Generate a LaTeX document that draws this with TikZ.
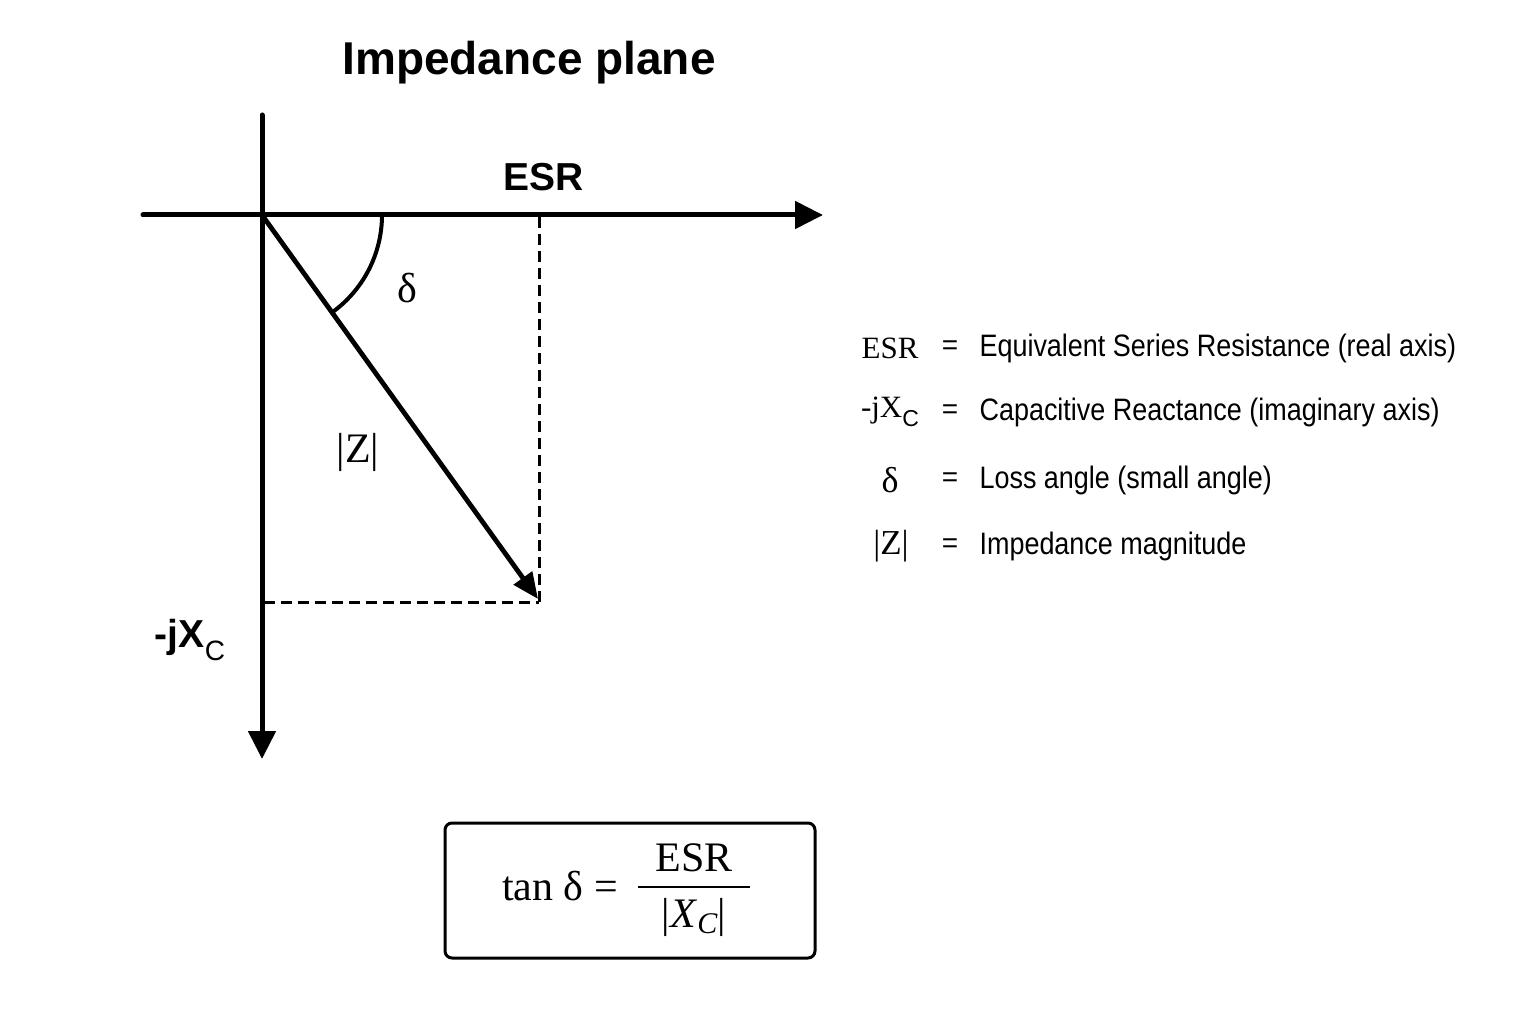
\documentclass[tikz,border=0pt]{standalone}
\usepackage{fontspec}
\setmainfont{Liberation Serif}
\setsansfont{Liberation Sans}
\newfontfamily\narrowsans[FakeStretch=0.87]{Liberation Sans}
\usetikzlibrary{arrows.meta}
\newcommand{\fs}[1]{\fontsize{#1}{#1}\selectfont}
\tikzset{
  axisline/.style={line width=5pt, -{Triangle[length=28pt,width=27pt]}},
  vecline/.style={line width=4.8pt, -{Triangle[length=26pt,width=22pt]}},
  dashline/.style={line width=3pt, dash pattern=on 11pt off 6pt},
  title/.style={font=\sffamily\bfseries\fs{46}},
  axislabel/.style={font=\sffamily\bfseries\fs{39}},
  greek/.style={font=\rmfamily\fs{42}},
  sym/.style={font=\rmfamily\fs{31}, anchor=center},
  eqs/.style={font=\sffamily\fs{28}, anchor=center},
  desc/.style={font=\narrowsans\fs{31}, anchor=west},
  fbox/.style={draw, line width=3pt, rounded corners=7pt},
  ftext/.style={font=\rmfamily\fs{42}}
}
\begin{document}
\begin{tikzpicture}[x=1pt,y=-1pt]
\useasboundingbox (0,0) rectangle (1536,1024);
\fill[white] (0,0) rectangle (1536,1024);

% title
\node[title] (title) at (529,63) {Impedance plane};

% axes
\coordinate (O) at (262,215);
\coordinate (xl) at (143,215);
\coordinate (xr) at (823,215);
\coordinate (yt) at (262,115);
\coordinate (yb) at (262,759);
\draw[line width=5pt, line cap=round] (xl) -- (O);
\draw[axisline] (O) -- (xr);
\draw[line width=5pt, line cap=round] (yt) -- (O);
\draw[axisline] (O) -- (yb);

% dashed projections
\coordinate (P) at (539,602);
\coordinate (Px) at (539,217);
\coordinate (Py) at (264,602);
\draw[dashline] (Px) -- (P);
\draw[dashline] (Py) -- (P);

% vector
\coordinate (tip) at (538,599);
\draw[vecline] (O) -- (tip);

% angle arc
\draw[line width=4pt] (382,215) arc[start angle=0, end angle=54.2, radius=120];

% labels
\node[greek] (delta) at (407,288) {δ};
\node[greek] (zmag) at (358,452) {|Z|};
\node[axislabel] (esr) at (544,177) {ESR};
\node[axislabel] (jxc) at (190,640) {-jX\raisebox{-0.6ex}{\mdseries\fs{28}C}};

% legend
\node[sym] (s1) at (890,348) {ESR};
\node[sym] (s2) at (890,412) {-jX\raisebox{-0.6ex}{\sffamily\fs{23}C}};
\node[sym, font=\rmfamily\fs{36}] (s3) at (890,480) {δ};
\node[sym, font=\rmfamily\fs{35}] (s4) at (891,546) {|Z|};
\node[eqs] (e1) at (950,348) {=};
\node[eqs] (e2) at (950,412) {=};
\node[eqs] (e3) at (950,480) {=};
\node[eqs] (e4) at (950,546) {=};
\node[desc] (d1) at (976,348) {Equivalent Series Resistance (real axis)};
\node[desc] (d2) at (976,412) {Capacitive Reactance (imaginary axis)};
\node[desc] (d3) at (976,480) {Loss angle (small angle)};
\node[desc] (d4) at (976,546) {Impedance magnitude};

% formula box
\node[fbox, minimum width=370pt, minimum height=135pt] (box) at (630,890.5) {};
\node[ftext] (lhs) at (560,886) {tan δ =};
\node[ftext] (num) at (694,858) {ESR};
\node[ftext] (den) at (694,917) {|\textit{X}\raisebox{-0.35ex}{\textit{\fs{30}C}}|};
\coordinate (barl) at (638,887);
\coordinate (barr) at (750,887);
\draw[line width=2.2pt] (barl) -- (barr);
\end{tikzpicture}
\end{document}
